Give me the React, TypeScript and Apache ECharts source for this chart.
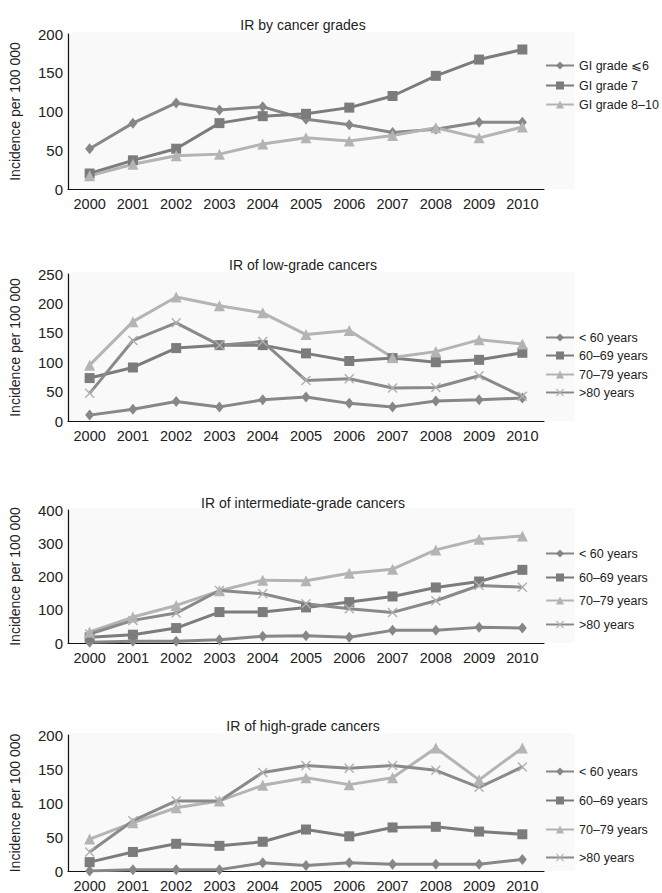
import React, { useEffect, useRef } from "react";
import * as echarts from "echarts";

const years = ["2000", "2001", "2002", "2003", "2004", "2005", "2006", "2007", "2008", "2009", "2010"];

const titles = [
  "IR by cancer grades",
  "IR of low-grade cancers",
  "IR of intermediate-grade cancers",
  "IR of high-grade cancers",
];

const gradeNames = ["GI grade \u2A7D6", "GI grade 7", "GI grade 8\u201310"];
const ageNames = ["< 60 years", "60\u201369 years", "70\u201379 years", ">80 years"];

// Panel 1: IR by grade
const gradeLow = [52, 85, 111, 102, 106, 90, 83, 73, 77, 86, 86];
const grade7 = [20, 37, 52, 85, 94, 97, 105, 120, 146, 167, 180];
const gradeHigh = [17, 32, 43, 45, 58, 66, 62, 69, 79, 66, 80];

// Panel 2: low-grade
const lowU60 = [10, 20, 33, 24, 36, 41, 30, 24, 34, 36, 39];
const low6069 = [73, 91, 124, 129, 129, 115, 102, 107, 100, 104, 116];
const low7079 = [95, 169, 211, 196, 184, 147, 154, 108, 118, 138, 131];
const low80 = [47, 137, 167, 129, 135, 69, 72, 56, 57, 77, 42];

// Panel 3: intermediate-grade
const midU60 = [2, 5, 5, 10, 20, 22, 17, 38, 38, 47, 45];
const mid6069 = [17, 25, 45, 93, 93, 107, 123, 140, 167, 185, 220];
const mid7079 = [33, 78, 113, 157, 189, 187, 210, 222, 280, 312, 322];
const mid80 = [27, 68, 90, 158, 148, 118, 103, 92, 127, 173, 168];

// Panel 4: high-grade
const highU60 = [0, 2, 2, 2, 12, 8, 12, 10, 10, 10, 17];
const high6069 = [13, 28, 40, 37, 43, 61, 51, 64, 65, 58, 54];
const high7079 = [47, 71, 93, 103, 126, 137, 127, 137, 181, 134, 181];
const high80 = [28, 74, 103, 103, 145, 155, 151, 155, 148, 123, 153];

const yMax = [200, 250, 400, 200];
const yStep = [50, 50, 100, 50];

const FONT = "Liberation Sans, Arial, sans-serif";
const CROSS =
  "path://M0,1L1,0L5,4L9,0L10,1L6,5L10,9L9,10L5,6L1,10L0,9L4,5Z";

const styles = [
  { symbol: "diamond", size: [9, 11], line: "#878787", item: "#878787" },
  { symbol: "rect", size: 10, line: "#7c7c7c", item: "#7c7c7c" },
  { symbol: "triangle", size: 11, line: "#b4b4b4", item: "#b4b4b4" },
  { symbol: CROSS, size: 10, line: "#8a8a8a", item: "#b0b0b0" },
];

export default function App() {
  const ref = useRef<HTMLDivElement>(null);
  useEffect(() => {
    if (!ref.current) return;
    const chart = echarts.init(ref.current, undefined, { renderer: "svg" });

    const panels = [
      { top: 34, height: 155, titleY: 22, names: gradeNames, data: [gradeLow, grade7, gradeHigh], legendY: [66, 86, 105] },
      { top: 274, height: 147, titleY: 262, names: ageNames, data: [lowU60, low6069, low7079, low80], legendY: [338, 356, 375, 393] },
      { top: 510, height: 133, titleY: 500, names: ageNames, data: [midU60, mid6069, mid7079, mid80], legendY: [554, 578, 601, 625] },
      { top: 735, height: 136, titleY: 723, names: ageNames, data: [highU60, high6069, high7079, high80], legendY: [772, 801, 830, 858] },
    ];

    const grid: any[] = [];
    const xAxis: any[] = [];
    const yAxis: any[] = [];
    const title: any[] = [];
    const legend: any[] = [];
    const series: any[] = [];
    const graphic: any[] = [];

    panels.forEach((p, pi) => {
      graphic.push({
        type: "rect",
        z: -10,
        silent: true,
        shape: { x: 64, y: p.top - 2, width: 511, height: p.height + 2 },
        style: { fill: "#f9f9f9" },
      });
      grid.push({
        left: 64,
        width: 480,
        top: p.top,
        height: p.height,
      });
      xAxis.push({
        type: "category",
        gridIndex: pi,
        data: years,
        boundaryGap: true,
        axisLine: { show: true, lineStyle: { color: "#111", width: 1.2 } },
        axisTick: { show: false },
        axisLabel: { color: "#222", fontSize: 14.5, fontFamily: FONT, margin: 7, interval: 0 },
      });
      yAxis.push({
        type: "value",
        gridIndex: pi,
        min: 0,
        max: yMax[pi],
        interval: yStep[pi],
        name: "Incidence per 100 000",
        nameLocation: "middle",
        nameGap: 46,
        nameTextStyle: { color: "#222", fontSize: 14, fontFamily: FONT },
        axisLine: { show: true, lineStyle: { color: "#111", width: 1.2 } },
        axisTick: { show: false },
        splitLine: { show: false },
        axisLabel: { color: "#222", fontSize: 15, fontFamily: FONT, margin: 5 },
      });
      title.push({
        text: titles[pi],
        left: 298,
        textAlign: "center",
        top: p.titleY - 9,
        textStyle: { color: "#222", fontSize: 14, fontWeight: "normal", fontFamily: FONT },
      });
      p.names.forEach((n, si) => {
        const st = styles[si];
        series.push({
          type: "line",
          name: n,
          xAxisIndex: pi,
          yAxisIndex: pi,
          data: p.data[si],
          symbol: st.symbol,
          symbolSize: st.size,
          showSymbol: true,
          lineStyle: { color: st.line, width: 3 },
          itemStyle: { color: st.item },
        });
        legend.push({
          data: [n],
          left: 545,
          top: p.legendY[si] - 7,
          itemWidth: 28,
          itemHeight: 10,
          itemGap: 0,
          padding: 0,
          textStyle: { color: "#222", fontSize: 12.5, fontFamily: FONT },
        });
      });
    });

    chart.setOption({
      animation: false,
      backgroundColor: "#ffffff",
      title,
      legend,
      grid,
      xAxis,
      yAxis,
      series,
      graphic,
    });
    return () => chart.dispose();
  }, []);

  return (
    <div
      ref={ref}
      style={{ position: "absolute", left: 0, top: 0, width: 662, height: 893 }}
    />
  );
}
